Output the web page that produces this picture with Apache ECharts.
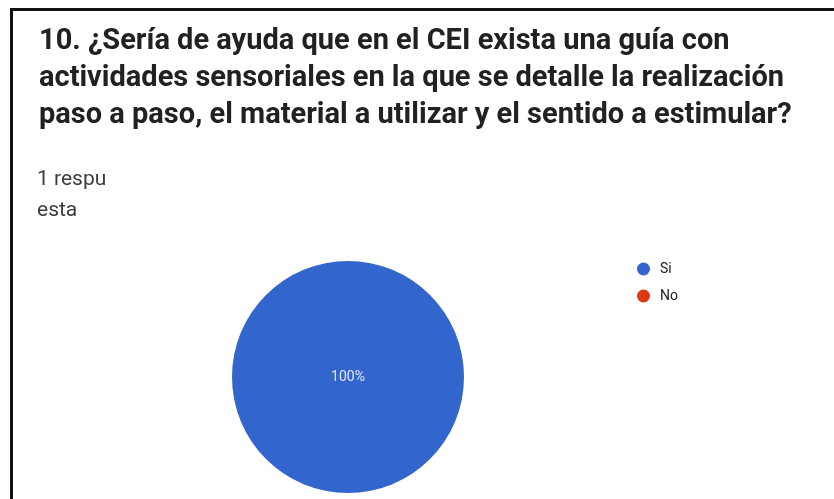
<!DOCTYPE html>
<html>
<head>
<meta charset="utf-8">
<script src="https://cdn.jsdelivr.net/npm/echarts@6/dist/echarts.min.js"></script>
<style>
html,body{margin:0;padding:0;background:#fff;}
#chart{width:834px;height:499px;}
</style>
</head>
<body>
<div id="chart"></div>
<script>
const titleLines = [
  "10. ¿Sería de ayuda que en el CEI exista una guía con",
  "actividades sensoriales en la que se detalle la realización",
  "paso a paso, el material a utilizar y el sentido a estimular?"
];
const subtitleLines = ["1 respu", "esta"];
const categories = ["Si", "No"];
const values = [1, 0];
const colors = ["#3366cc", "#dc3912"];

const chart = echarts.init(document.getElementById('chart'));
chart.setOption({
  backgroundColor: '#ffffff',
  animation: false,
  title: [{
    text: titleLines.join('\n'),
    left: 34,
    top: 18,
    textStyle: {
      fontFamily: 'Roboto',
      fontWeight: 'bold',
      fontSize: 29,
      lineHeight: 37,
      color: '#202124'
    }
  }, {
    text: subtitleLines.join('\n'),
    left: 32,
    top: 159,
    textStyle: {
      fontFamily: 'Roboto',
      fontWeight: 'normal',
      fontSize: 21,
      lineHeight: 31,
      color: '#3c3c3c'
    }
  }],
  legend: {
    orient: 'vertical',
    left: 632,
    top: 257,
    itemWidth: 13,
    itemHeight: 13,
    itemGap: 13,
    icon: 'circle',
    data: categories,
    textStyle: {fontFamily: 'Roboto', fontSize: 14, color: '#222222', padding: [0, 0, 0, 5]}
  },
  graphic: [
    {type: 'rect', shape: {x: 10, y: 8, width: 824, height: 3}, style: {fill: '#111'}},
    {type: 'rect', shape: {x: 10, y: 8, width: 3, height: 491}, style: {fill: '#111'}}
  ],
  series: [{
    type: 'pie',
    center: [348, 377],
    radius: [0, 116],
    startAngle: 90,
    color: colors,
    data: categories.map((c, i) => ({name: c, value: values[i]})),
    label: {
      position: 'center',
      formatter: p => p.value > 0 ? Math.round(p.percent) + '%' : '',
      color: '#dfe6f7',
      fontFamily: 'Roboto',
      fontSize: 14
    },
    labelLine: {show: false},
    itemStyle: {borderWidth: 0}
  }]
});
</script>
</body>
</html>
